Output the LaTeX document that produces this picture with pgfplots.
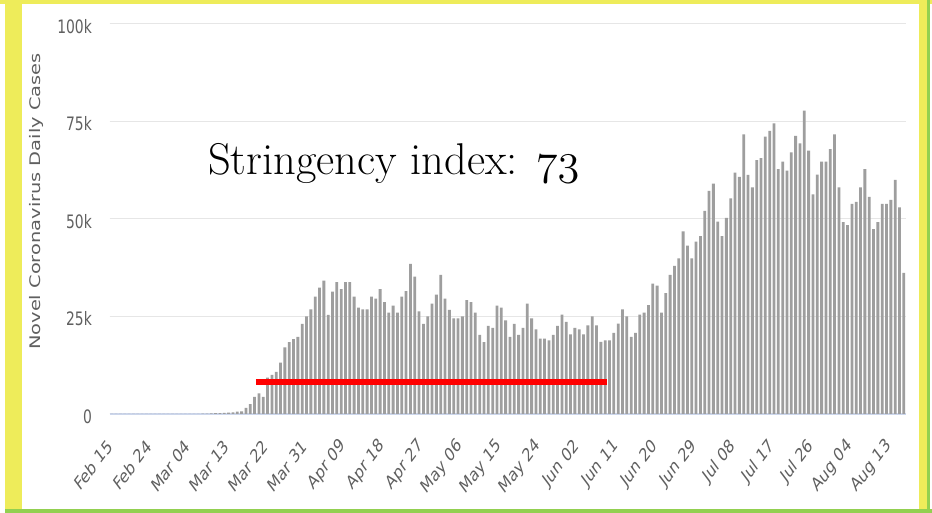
\RequirePackage{fix-cm}
\documentclass[border=0pt]{standalone}
\usepackage{fontspec}
\usepackage{pgfplots}
\pgfplotsset{compat=1.18}
\newfontfamily\chartfont{DejaVu Sans}
\definecolor{barc}{RGB}{158,158,158}
\definecolor{gridc}{RGB}{230,230,230}
\definecolor{basec}{RGB}{204,214,235}
\definecolor{txtc}{RGB}{96,96,96}
\definecolor{yel}{RGB}{238,236,90}
\definecolor{grn}{RGB}{146,208,80}
\begin{document}
\begin{tikzpicture}[x=1pt,y=1pt]
\useasboundingbox (0,0) rectangle (932,513);
\fill[white] (0,0) rectangle (932,513);
\fill[yel] (5,3) rectangle (22,513);
\fill[yel] (0,509) rectangle (932,513);
\fill[yel] (919,3) rectangle (927,513);
\fill[grn] (5,0) rectangle (932,4);
\fill[grn] (927,0) rectangle (930,513);
\begin{axis}[
  at={(109.6pt,99pt)}, anchor=south west, scale only axis,
  width=796.4pt, height=390pt,
  xmin=-0.5, xmax=183.5, ymin=0, ymax=100,
  axis lines*=left,
  y axis line style={draw=none},
  x axis line style={draw=basec, line width=1.3pt},
  tick style={draw=none},
  ymajorgrids, grid style={draw=gridc, line width=1pt},
  ytick={0,25,50,75,100},
  yticklabels={0,25k,50k,75k,100k},
  xtick={0,9,...,180},
  xticklabels={Feb 15,Feb 24,Mar 04,Mar 13,Mar 22,Mar 31,Apr 09,Apr 18,Apr 27,May 06,May 15,May 24,Jun 02,Jun 11,Jun 20,Jun 29,Jul 08,Jul 17,Jul 26,Aug 04,Aug 13},
  yticklabel style={font=\chartfont\fontsize{18.5}{18.5}\selectfont, text=txtc, anchor=east, inner sep=0pt, xshift=-17.6pt, yshift=-2.5pt, xscale=0.75},
  xticklabel style={font=\chartfont\fontsize{18.5}{18.5}\selectfont, text=txtc, anchor=east, inner sep=0pt, xshift=-2pt, yshift=-29pt, xscale=0.75, rotate=45},
  clip=false,
]
\addplot[ybar, bar width=2.8pt, fill=barc, draw=none] coordinates {
(0,0)(1,0)(2,0)(3,0)(4,0)(5,0)(6,0)(7,0)(8,0)(9,0)(10,0)(11,0)(12,0)(13,0)(14,0)
(15,0.01)(16,0.02)(17,0.02)(18,0.03)(19,0.06)(20,0.05)(21,0.1)(22,0.1)(23,0.15)(24,0.2)(25,0.25)(26,0.3)(27,0.35)(28,0.4)
(29,0.6)(30,0.7)(31,1.6)(32,2.5)(33,4.4)(34,5.3)(35,4.4)(36,9.3)(37,10.0)(38,10.8)(39,13.2)(40,17.1)(41,18.4)(42,19.2)(43,19.8)(44,23.1)(45,25.0)(46,26.8)(47,30.1)(48,32.4)(49,34.2)(50,25.4)(51,31.4)(52,33.8)(53,32.0)
(54,33.8)(55,33.8)(56,30.1)(57,27.3)(58,26.8)(59,26.8)(60,30.1)(61,29.6)(62,32.0)(63,28.7)(64,26.0)(65,27.8)(66,26.0)(67,30.1)(68,31.5)(69,38.5)(70,35.2)(71,26.3)(72,23.1)(73,25.0)(74,28.3)(75,30.6)(76,35.7)(77,29.6)(78,26.7)(79,24.5)
(80,24.5)(81,25.0)(82,29.2)(83,28.7)(84,26.0)(85,20.3)(86,18.4)(87,22.6)(88,22.1)(89,27.8)(90,27.3)(91,24.0)(92,19.8)(93,23.1)(94,20.3)(95,22.1)(96,28.3)(97,24.5)(98,21.7)(99,19.3)(100,19.3)(101,18.9)(102,20.3)(103,22.6)(104,25.5)(105,23.6)
(106,20.4)(107,22.1)(108,21.7)(109,20.4)(110,22.7)(111,25.0)(112,22.7)(113,18.5)(114,18.9)(115,18.9)(116,20.8)(117,23.2)(118,26.8)(119,25.0)(120,19.8)(121,20.8)(122,25.5)(123,26.0)(124,27.9)(125,33.4)(126,32.9)(127,26.0)(128,31.0)(129,35.7)(130,38.0)(131,39.9)
(132,46.8)(133,43.2)(134,39.9)(135,44.2)(136,45.6)(137,52.1)(138,57.2)(139,59.1)(140,49.3)(141,45.6)(142,50.3)(143,55.3)(144,61.9)(145,60.8)(146,71.7)(147,61.3)(148,58.1)(149,65.1)(150,65.6)(151,71.1)(152,72.6)(153,74.5)(154,62.8)(155,64.7)(156,62.4)(157,67.1)
(158,71.3)(159,69.4)(160,77.8)(161,67.5)(162,56.3)(163,61.4)(164,64.7)(165,64.7)(166,67.9)(167,71.7)(168,58.1)(169,49.2)(170,48.4)(171,53.9)(172,54.4)(173,58.1)(174,62.8)(175,55.7)(176,47.4)(177,49.2)(178,53.9)(179,53.9)(180,54.9)(181,60.0)(182,53.0)(183,36.2)
};
\addplot[sharp plot, draw=red, line width=6pt] coordinates {(33.3,8.2) (114.5,8.2)};
\end{axis}
\node[font=\chartfont\fontsize{19.4}{19.4}\selectfont, text=txtc, rotate=90, yscale=0.75] at (36,311.5) {Novel Coronavirus Daily Cases};
\node[anchor=base west, inner sep=0pt, font=\fontsize{44.5}{44.5}\selectfont] at (208,338) {Stringency index: $\mathnormal{73}$};
\end{tikzpicture}
\end{document}
